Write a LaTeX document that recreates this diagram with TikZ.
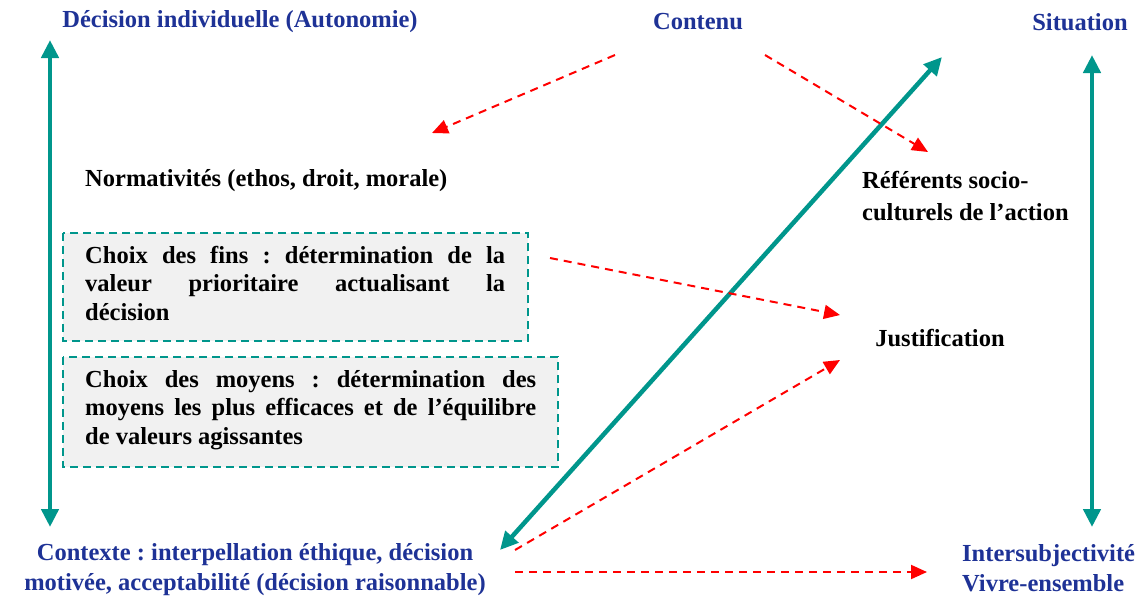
\documentclass[tikz,border=0pt]{standalone}
\usepackage{fontspec}
\setmainfont{Liberation Serif}
\usetikzlibrary{arrows.meta}
\definecolor{tealc}{RGB}{0,150,140}
\definecolor{bluec}{RGB}{30,50,150}
\definecolor{redc}{RGB}{255,0,0}
\definecolor{boxfill}{RGB}{241,241,241}
\tikzset{
  lbl/.style={inner sep=0pt, font=\fontsize{24.5}{30}\selectfont\bfseries\frenchspacing},
  bluelbl/.style={lbl, text=bluec},
  blacklbl/.style={lbl, text=black},
  tealarrow/.style={draw=tealc, line width=4.5pt, {Triangle[length=18pt,width=17pt]}-{Triangle[length=18pt,width=17pt]}},
  redarrow/.style={draw=redc, line width=2pt, dash pattern=on 8pt off 6pt, -{Triangle[length=16pt,width=14pt]}},
  dbox/.style={draw=tealc, fill=boxfill, line width=2pt, dash pattern=on 8pt off 5pt}
}
\newcommand{\jline}[2]{\makebox[#1][s]{#2}}
\begin{document}
\frenchspacing
\begin{tikzpicture}[x=1pt,y=-1pt]
\useasboundingbox (0,0) rectangle (1145,598);
% boxes
\draw[dbox] (63,233) rectangle (528,341);
\draw[dbox] (63,357) rectangle (558,467);
% labels
\node[bluelbl] (dec) at (240,22) {Décision individuelle (Autonomie)};
\node[bluelbl] (cont) at (698,22) {Contenu};
\node[bluelbl] (sit) at (1080,22) {Situation};
\node[blacklbl, anchor=west] (norm) at (85,181) {Normativités (ethos, droit, morale)};
\node[blacklbl, anchor=west, align=left, font=\fontsize{24.5}{32}\selectfont\bfseries] (ref) at (862,196) {Référents socio-\\culturels de l’action};
\node[blacklbl] (just) at (940,338) {Justification};
\node[bluelbl, align=center] (ctx) at (255,570) {Contexte : interpellation éthique, décision\\motivée, acceptabilité (décision raisonnable)};
\node[bluelbl, anchor=west, align=left] (inter) at (962,568) {Intersubjectivité\\Vivre-ensemble};
\node[blacklbl, anchor=north west, align=left, font=\fontsize{24.5}{28.5}\selectfont\bfseries] (fins) at (85,246) {\jline{420pt}{Choix des fins : détermination de la}\\\jline{420pt}{valeur prioritaire actualisant la}\\décision};
\node[blacklbl, anchor=north west, align=left, font=\fontsize{24.5}{28.5}\selectfont\bfseries] (moy) at (85,370) {\jline{451pt}{Choix des moyens : détermination des}\\\jline{451pt}{moyens les plus efficaces et de l’équilibre}\\de valeurs agissantes};
% coordinates for arrow ends
\coordinate (lt) at (50,40);
\coordinate (lb) at (50,527);
\coordinate (rt) at (1092,55);
\coordinate (rb) at (1092,527);
\coordinate (dt) at (942,57);
\coordinate (db) at (500,550);
\coordinate (c1s) at (615,55);
\coordinate (c1e) at (432,133);
\coordinate (c2s) at (765,55);
\coordinate (c2e) at (928,152);
\coordinate (f1s) at (550,258);
\coordinate (f1e) at (840,315);
\coordinate (x1s) at (515,550);
\coordinate (x1e) at (840,360);
\coordinate (x2s) at (515,572);
\coordinate (x2e) at (927,572);
% teal arrows
\draw[tealarrow] (lb) -- (lt);
\draw[tealarrow] (rb) -- (rt);
\draw[tealarrow] (db) -- (dt);
% red arrows
\draw[redarrow] (c1s) -- (c1e);
\draw[redarrow] (c2s) -- (c2e);
\draw[redarrow] (f1s) -- (f1e);
\draw[redarrow] (x1s) -- (x1e);
\draw[redarrow] (x2s) -- (x2e);
\end{tikzpicture}
\end{document}
